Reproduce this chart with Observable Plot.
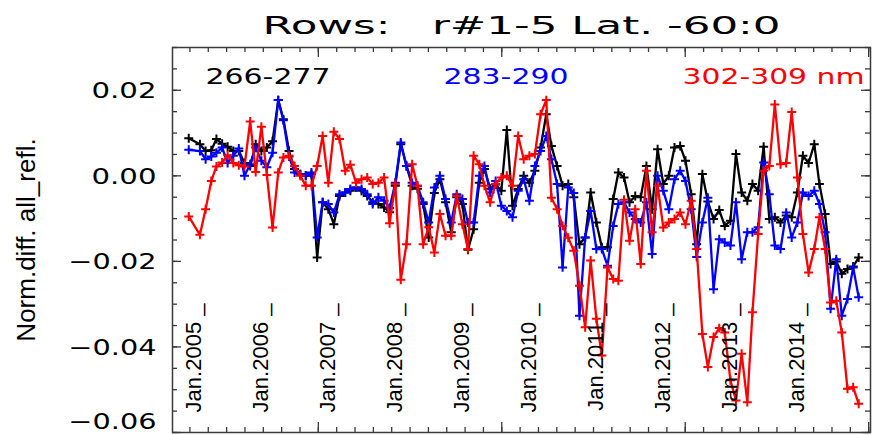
<!DOCTYPE html>
<html>
<head>
<meta charset="utf-8">
<script src="https://cdn.jsdelivr.net/npm/d3@7"></script>
<script src="https://cdn.jsdelivr.net/npm/@observablehq/plot@0.6"></script>
<style>
  html, body { margin: 0; padding: 0; background: #fff; }
  svg { display: block; }
  text { white-space: pre; }
</style>
</head>
<body>
<div id="chart"></div>
<script>
// ---------- texts ----------
const title = "Rows:   r#1-5 Lat. -60:0";
const yLabel = "Norm.diff. all_refl.";
const seriesNames = ["266-277", "283-290", "302-309 nm"];
const seriesColors = ["#000000", "#0000ff", "#ff0000"];

// ---------- axes ----------
const yDomain = [-0.06, 0.03];
const yTickLabels = [-0.06, -0.04, -0.02, 0.00, 0.02];
const yMinorStep = 0.005;
const xDomainJD = [2453205, 2457010];      // Julian days at the frame edges
const xMinorStepJD = 100, xMajorStepJD = 1000;
const yearLabels = [2005, 2006, 2007, 2008, 2009, 2010, 2011, 2012, 2013, 2014];

// ---------- monthly samples: Oct 2004 .. Oct 2014 (no Nov 2004) ----------
const firstMonth = [2004, 9], lastMonthExcl = [2014, 10], missingMonth = [2004, 10];
const months = d3.utcMonth.range(new Date(Date.UTC(...firstMonth, 1)), new Date(Date.UTC(...lastMonthExcl, 1)))
  .filter(d => !(d.getUTCFullYear() === missingMonth[0] && d.getUTCMonth() === missingMonth[1]))
  .map(d => d3.utcDay.offset(d, 14));

// 266-277 (black)
const s266 = [
  0.0088, 0.0074, 0.0058, 0.0060, 0.0086, 0.0075, 0.0068, 0.0058, 0.0058, 0.0030,
  0.0023, 0.0074, 0.0058, 0.0066, 0.0081, 0.0177, 0.0132, 0.0058, 0.0016, 0.0004,
  0.0000, 0.0004, -0.0191, -0.0062, -0.0078, -0.0113, -0.0047, -0.0039, -0.0035, -0.0027,
  -0.0035, -0.0047, -0.0062, -0.0066, -0.0074, -0.0085, -0.0023, 0.0074, 0.0023, -0.0023,
  -0.0030, -0.0066, -0.0144, -0.0040, -0.0008, -0.0062, -0.0132, -0.0050, -0.0066, -0.0173,
  -0.0125, -0.0016, 0.0016, -0.0030, -0.0020, -0.0035, 0.0107, -0.0070, -0.0031, 0.0000,
  -0.0016, 0.0012, 0.0066, 0.0144, 0.0070, 0.0023, -0.0023, -0.0019, -0.0050, -0.0160,
  -0.0144, -0.0039, -0.0109, -0.0167, -0.0167, -0.0054, 0.0008, -0.0004, -0.0062, -0.0047,
  -0.0050, 0.0023, -0.0078, 0.0062, -0.0019, 0.0000, 0.0066, 0.0070, 0.0035, -0.0043,
  -0.0160, 0.0004, -0.0060, -0.0101, -0.0080, -0.0117, -0.0105, 0.0051, -0.0039, -0.0058,
  -0.0019, -0.0035, 0.0068, -0.0101, -0.0097, -0.0109, -0.0093, -0.0097, -0.0039, 0.0047,
  0.0030, 0.0074, -0.0019, -0.0089, -0.0206, -0.0200, -0.0229, -0.0218, -0.0212, -0.0191
];
// 283-290 (blue)
const s283 = [
  0.0061, 0.0058, 0.0039, 0.0045, 0.0054, 0.0066, 0.0030, 0.0047, 0.0064, 0.0000,
  0.0027, 0.0066, 0.0035, 0.0020, 0.0054, 0.0177, 0.0130, 0.0045, 0.0008, 0.0004,
  0.0000, 0.0008, -0.0144, -0.0062, -0.0066, -0.0086, -0.0043, -0.0039, -0.0031, -0.0027,
  -0.0031, -0.0043, -0.0066, -0.0050, -0.0058, -0.0075, -0.0016, 0.0078, 0.0023, -0.0016,
  -0.0023, -0.0062, -0.0109, -0.0027, 0.0000, -0.0054, -0.0109, -0.0043, -0.0054, -0.0109,
  -0.0109, 0.0000, 0.0023, -0.0039, -0.0012, -0.0070, -0.0082, -0.0097, -0.0035, -0.0008,
  -0.0058, 0.0023, 0.0058, 0.0093, 0.0039, -0.0019, -0.0214, -0.0027, -0.0040, -0.0327,
  -0.0144, -0.0082, -0.0171, -0.0171, -0.0210, -0.0117, -0.0066, -0.0062, -0.0086, -0.0101,
  -0.0109, -0.0062, -0.0183, 0.0000, -0.0035, -0.0078, -0.0008, 0.0012, -0.0012, -0.0078,
  -0.0190, -0.0109, -0.0051, -0.0265, -0.0148, -0.0156, -0.0163, -0.0062, -0.0195, -0.0132,
  -0.0132, -0.0120, 0.0031, -0.0043, -0.0163, -0.0171, -0.0086, -0.0144, -0.0109, -0.0039,
  -0.0047, -0.0035, -0.0066, -0.0132, -0.0311, -0.0195, -0.0327, -0.0288, -0.0214, -0.0284
];
// 302-309 nm (red)
const s302 = [
  -0.0095, -0.0138, -0.0078, -0.0012, 0.0022, 0.0031, 0.0048, 0.0030, 0.0025, 0.0022,
  0.0127, 0.0009, 0.0115, 0.0002, -0.0121, 0.0008, 0.0043, 0.0047, 0.0023, 0.0000,
  -0.0023, -0.0023, 0.0023, 0.0093, -0.0016, 0.0103, 0.0086, 0.0012, 0.0026, -0.0016,
  -0.0008, -0.0004, -0.0019, -0.0016, -0.0004, -0.0111, -0.0019, -0.0243, -0.0160, 0.0027,
  -0.0023, -0.0160, -0.0120, -0.0179, -0.0089, -0.0140, -0.0140, -0.0047, -0.0113, -0.0171,
  0.0047, 0.0027, -0.0023, -0.0062, -0.0019, -0.0004, 0.0000, -0.0023, 0.0093, 0.0039,
  0.0047, 0.0051, 0.0144, 0.0177, -0.0051, -0.0078, -0.0117, -0.0145, -0.0175, -0.0257,
  -0.0354, -0.0198, -0.0334, -0.0420, -0.0214, -0.0241, -0.0245, -0.0056, -0.0152, -0.0078,
  -0.0206, 0.0012, -0.0132, -0.0023, -0.0121, -0.0109, -0.0101, -0.0086, -0.0113, -0.0058,
  -0.0171, -0.0370, -0.0447, -0.0377, -0.0356, -0.0366, -0.0478, -0.0525, -0.0416, -0.0529,
  -0.0319, -0.0136, 0.0012, 0.0023, 0.0167, 0.0027, 0.0030, 0.0149, -0.0004, -0.0136,
  -0.0226, -0.0171, -0.0097, -0.0171, -0.0296, -0.0292, -0.0366, -0.0498, -0.0494, -0.0533
];
const seriesValues = [s266, s283, s302];

// ---------- build ----------
const jdToDate = jd => new Date((jd - 2440587.5) * 86400000);
const xMinor = d3.range(Math.ceil(xDomainJD[0] / xMinorStepJD) * xMinorStepJD, xDomainJD[1], xMinorStepJD);
const xMajor = xMinor.filter(d => d % xMajorStepJD === 0);
const yMinor = d3.range(Math.round((yDomain[1] - yDomain[0]) / yMinorStep) + 1).map(i => yDomain[0] + i * yMinorStep);
const yearDates = yearLabels.map(y => new Date(Date.UTC(y, 0, 1)));
const fmt = d3.format(".2f");

const W = 878, H = 435, mL = 172, mR = 8, mT = 47, mB = 3;
const fw = W - mL - mR, fh = H - mT - mB;
const frameColor = "#3a3a3a";

const marks = [];
// ticks
marks.push(Plot.tickX(xMinor.map(jdToDate), {x: d => d, insetBottom: fh - 5, stroke: frameColor, strokeWidth: 1.3}));
marks.push(Plot.tickX(xMajor.map(jdToDate), {x: d => d, insetBottom: fh - 10, stroke: frameColor, strokeWidth: 1.3}));
marks.push(Plot.tickX(xMinor.map(jdToDate), {x: d => d, insetTop: fh - 5, stroke: frameColor, strokeWidth: 1.3}));
marks.push(Plot.tickX(xMajor.map(jdToDate), {x: d => d, insetTop: fh - 10, stroke: frameColor, strokeWidth: 1.3}));
marks.push(Plot.tickY(yMinor, {y: d => d, insetRight: fw - 5, stroke: frameColor, strokeWidth: 1.3}));
marks.push(Plot.tickY(yMinor, {y: d => d, insetLeft: fw - 5, stroke: frameColor, strokeWidth: 1.3}));
marks.push(Plot.tickY(yTickLabels, {y: d => d, insetRight: fw - 9, stroke: frameColor, strokeWidth: 1.3}));
marks.push(Plot.tickY(yTickLabels, {y: d => d, insetLeft: fw - 9, stroke: frameColor, strokeWidth: 1.3}));
marks.push(Plot.frame({stroke: frameColor, strokeWidth: 1.5}));

// series
seriesValues.forEach((vals, k) => {
  const data = months.map((d, i) => ({date: d, value: vals[i]}));
  marks.push(Plot.line(data, {x: "date", y: "value", stroke: seriesColors[k], strokeWidth: 2.3}));
  marks.push(Plot.dot(data, {x: "date", y: "value", stroke: seriesColors[k], symbol: "plus", r: 3, strokeWidth: 2}));
});

// year labels (rotated, inside the plot)
marks.push(Plot.text(yearDates, {
  x: d => d, text: d => `Jan.${d.getUTCFullYear()} _`, frameAnchor: "bottom",
  rotate: -90, textAnchor: "end", lineAnchor: "bottom", dx: -2, dy: -129,
  fontFamily: "Liberation Sans", fontSize: 22, fill: "#000"
}));

// y tick labels (the lowest one is lifted so it stays inside the picture)
const yLow = yTickLabels.filter(v => v === yDomain[0]);
const yRest = yTickLabels.filter(v => v !== yDomain[0]);
marks.push(Plot.text(yRest, {
  y: d => d, text: d => fmt(d), frameAnchor: "left", textAnchor: "end",
  dx: -16, dy: 1, fontFamily: "DejaVu Sans", fontSize: 21, fill: "#000"
}));
marks.push(Plot.text(yLow, {
  y: d => d, text: d => fmt(d), frameAnchor: "left", textAnchor: "end",
  dx: -16, dy: -10, fontFamily: "DejaVu Sans", fontSize: 21, fill: "#000"
}));

// y label
marks.push(Plot.text([yLabel], {
  text: d => d, frameAnchor: "left", rotate: -90, textAnchor: "middle", lineAnchor: "bottom",
  dx: -138, fontFamily: "Liberation Sans", fontSize: 26, fill: "#000"
}));

// title
marks.push(Plot.text([title], {
  text: d => d, frameAnchor: "top", lineAnchor: "bottom", dy: -14,
  fontFamily: "DejaVu Sans", fontSize: 25, fill: "#000"
}));

// legend labels
const legendDx = [33, 271, 510];
seriesNames.forEach((name, k) => {
  marks.push(Plot.text([name], {
    text: d => d, frameAnchor: "top-left", textAnchor: "start", lineAnchor: "bottom",
    dx: legendDx[k], dy: 36, fontFamily: "DejaVu Sans", fontSize: 22, fill: seriesColors[k]
  }));
});

const svg = Plot.plot({
  width: W, height: H,
  marginLeft: mL, marginRight: mR, marginTop: mT, marginBottom: mB,
  style: {background: "#fff", overflow: "visible"},
  x: {type: "utc", domain: xDomainJD.map(jdToDate), axis: null},
  y: {domain: yDomain, axis: null},
  marks
});

// stretch the wide IDL-style texts to their widths
const fitWidths = new Map([
  [title, 518], [seriesNames[0], 125], [seriesNames[1], 125], [seriesNames[2], 182]
]);
yTickLabels.forEach(v => fitWidths.set(fmt(v), v < 0 ? 88 : 65));
svg.querySelectorAll("text").forEach(t => {
  const w = fitWidths.get(t.textContent);
  if (w) { t.setAttribute("textLength", w); t.setAttribute("lengthAdjust", "spacingAndGlyphs"); }
});

document.getElementById("chart").appendChild(svg);
</script>
</body>
</html>
